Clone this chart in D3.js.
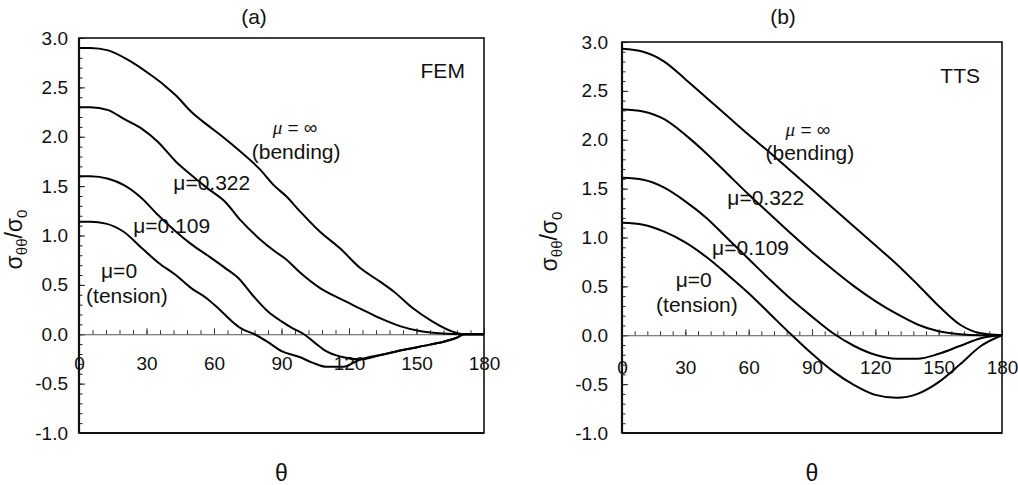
<!DOCTYPE html>
<html>
<head>
<meta charset="utf-8">
<script src="https://cdn.jsdelivr.net/npm/d3@7"></script>
<style>
  html, body { margin: 0; padding: 0; background: #fff; }
  svg { display: block; font-family: "Liberation Sans", Arial, sans-serif; }
</style>
</head>
<body>
<script>
// Hoop stress around the hole, sigma_theta_theta / sigma_0 versus theta (deg)

// axis ticks
const thetaLabels = [0, 30, 60, 90, 120, 150, 180];
const stressLabels = [3.0, 2.5, 2.0, 1.5, 1.0, 0.5, 0.0, -0.5, -1.0];

// (a) finite element results, [theta, stress] pairs
const femBending = [[0,2.90],[5,2.90],[13,2.875],[22,2.775],[31,2.64],[38,2.52],[43,2.42],[50,2.25],[57,2.12],[63,2.015],[72,1.845],[80,1.68],[87,1.50],[92,1.40],[98,1.25],[107,1.04],[116,0.87],[125,0.67],[134,0.53],[140,0.43],[148,0.27],[157,0.13],[165,0.035],[171,0],[180,0]];
const femMu0322 = [[0,2.30],[5,2.30],[13,2.27],[20,2.18],[28,2.08],[35,1.95],[43,1.75],[50,1.61],[57,1.48],[65,1.34],[72,1.15],[80,0.97],[87,0.84],[92,0.76],[98,0.63],[107,0.47],[116,0.36],[125,0.26],[134,0.16],[143,0.08],[152,0.03],[160,0.01],[171,0],[180,0]];
const femMu0109 = [[0,1.60],[5,1.60],[13,1.575],[20,1.51],[28,1.375],[35,1.21],[43,1.04],[50,0.91],[57,0.80],[65,0.67],[71,0.565],[77,0.40],[84,0.23],[90,0.13],[95,0.06],[100,0],[105,-0.09],[109,-0.16],[117,-0.23],[125,-0.255],[134,-0.21],[146,-0.15],[156,-0.105],[163,-0.07],[168,-0.035],[171,0],[180,0]];
const femMu0 = [[0,1.14],[5,1.14],[12,1.12],[20,1.035],[28,0.87],[35,0.73],[43,0.60],[50,0.465],[57,0.36],[62,0.26],[68,0.13],[72,0.06],[78,0],[84,-0.08],[90,-0.17],[98,-0.23],[104,-0.29],[110,-0.33],[117,-0.33],[125,-0.255],[134,-0.21],[146,-0.15],[156,-0.105],[163,-0.07],[168,-0.035],[171,0],[180,0]];

// (b) TTS results on a 10 degree grid
const ttsTheta = [0,10,20,30,40,50,60,70,80,90,100,110,120,130,140,150,160,170,180];
const ttsBending = [2.93,2.90,2.80,2.62,2.43,2.24,2.05,1.87,1.68,1.49,1.30,1.11,0.92,0.73,0.52,0.30,0.11,0.02,0];
const ttsMu0322 = [2.31,2.29,2.21,2.05,1.86,1.65,1.44,1.24,1.04,0.85,0.67,0.50,0.35,0.22,0.11,0.04,0.01,0,0];
const ttsMu0109 = [1.61,1.59,1.51,1.37,1.20,0.99,0.78,0.57,0.37,0.19,0.02,-0.11,-0.20,-0.24,-0.24,-0.19,-0.11,-0.03,0];
const ttsMu0 = [1.15,1.13,1.06,0.95,0.80,0.62,0.43,0.22,0.01,-0.19,-0.37,-0.51,-0.61,-0.64,-0.60,-0.48,-0.30,-0.11,0];

const zipTts = vals => ttsTheta.map((t, i) => [t, vals[i]]);

const svg = d3.select("body").append("svg")
  .attr("width", 1018).attr("height", 485);

const fmt = v => v.toFixed(1);
const FS = 21;      // annotation / title size
const TICK_FS = 19; // tick label size

function drawPanel(p) {
  const x = d3.scaleLinear().domain([0, 180]).range([p.left, p.right]);
  const y = d3.scaleLinear().domain([-1, 3]).range([p.bottom, p.top]);
  const g = svg.append("g");

  // inward minor ticks on the left axis (every 0.1)
  const yMinor = d3.range(-10, 31).map(i => i / 10);
  g.append("g").attr("transform", `translate(${p.left},0)`)
    .call(d3.axisRight(y).tickValues(yMinor).tickSize(3.5).tickFormat(""))
    .call(s => s.select(".domain").remove())
    .selectAll("line").attr("stroke", "#222").attr("stroke-width", 1);
  g.append("g").attr("transform", `translate(${p.left},0)`)
    .call(d3.axisRight(y).tickValues(stressLabels).tickSize(6).tickFormat(""))
    .call(s => s.select(".domain").remove())
    .selectAll("line").attr("stroke", "#222").attr("stroke-width", 1);

  // left tick labels
  g.append("g").attr("transform", `translate(${p.left},0)`)
    .call(d3.axisLeft(y).tickValues(stressLabels).tickSize(0).tickPadding(p.yPad).tickFormat(fmt))
    .call(s => s.select(".domain").remove())
    .selectAll("text").attr("font-size", TICK_FS).attr("fill", "#111")
    .attr("font-family", "Liberation Sans, Arial, sans-serif");

  // zero line with upward ticks every 6 degrees
  const xMinor = d3.range(0, 181, 6);
  g.append("g").attr("transform", `translate(0,${y(0)})`)
    .call(d3.axisTop(x).tickValues(xMinor).tickSize(4).tickSizeOuter(0).tickFormat(""))
    .call(s => s.select(".domain").attr("stroke", "#555").attr("stroke-width", 1))
    .selectAll("line").attr("stroke", "#333").attr("stroke-width", 1);
  g.append("g").attr("transform", `translate(0,${y(0)})`)
    .call(d3.axisTop(x).tickValues(thetaLabels).tickSize(6).tickSizeOuter(0).tickFormat(""))
    .call(s => s.select(".domain").remove())
    .selectAll("line").attr("stroke", "#333").attr("stroke-width", 1);

  // frame
  g.append("rect")
    .attr("x", p.left).attr("y", p.top)
    .attr("width", p.right - p.left).attr("height", p.bottom - p.top)
    .attr("fill", "none").attr("stroke", "#111").attr("stroke-width", 1.6);
  g.append("line").attr("x1", p.left).attr("x2", p.left)
    .attr("y1", p.top).attr("y2", p.bottom)
    .attr("stroke", "#111").attr("stroke-width", 2.2);
  g.append("line").attr("x1", p.left).attr("x2", p.right)
    .attr("y1", p.bottom).attr("y2", p.bottom)
    .attr("stroke", "#111").attr("stroke-width", 2.2);

  // theta labels below the zero line
  g.append("g").attr("transform", `translate(0,${y(0)})`)
    .call(d3.axisBottom(x).tickValues(thetaLabels).tickSize(0).tickPadding(p.xPad).tickFormat(d3.format("d")))
    .call(s => s.select(".domain").remove())
    .selectAll("text").attr("font-size", TICK_FS).attr("fill", "#111")
    .attr("font-family", "Liberation Sans, Arial, sans-serif");

  // curves
  const line = d3.line().x(d => x(d[0])).y(d => y(d[1])).curve(d3.curveMonotoneX);
  g.selectAll("path.curve").data(p.series).join("path")
    .attr("class", "curve")
    .attr("d", line)
    .attr("fill", "none").attr("stroke", "#000")
    .attr("stroke-width", 2).attr("stroke-linejoin", "round");

  // panel title, method tag
  g.append("text").attr("x", p.titleX).attr("y", 24)
    .attr("text-anchor", "middle").attr("font-size", FS).attr("fill", "#111")
    .text(p.title);
  g.append("text").attr("x", x(p.tag.t)).attr("y", y(p.tag.v))
    .attr("text-anchor", "end").attr("font-size", FS).attr("fill", "#111")
    .text(p.tag.text);

  // curve annotations
  p.notes.forEach(n => {
    const t = g.append("text").attr("x", x(n.t)).attr("y", y(n.v))
      .attr("text-anchor", "middle").attr("font-size", n.italic ? 19 : FS).attr("fill", "#111");
    if (n.italic) {
      t.append("tspan").attr("font-style", "italic").attr("font-family", "Liberation Serif, Times New Roman, serif").text("μ");
      t.append("tspan").text(" = ∞");
    } else {
      t.text(n.text);
    }
  });

  // axis titles
  const yt = g.append("text")
    .attr("transform", `translate(${p.yTitleX},${(p.top + p.bottom) / 2 + 4}) rotate(-90)`)
    .attr("text-anchor", "middle").attr("font-size", 23).attr("fill", "#111");
  yt.append("tspan").text("σ");
  yt.append("tspan").attr("font-size", 15).attr("dy", 5).text("θθ");
  yt.append("tspan").attr("dy", -5).text("/σ");
  yt.append("tspan").attr("font-size", 15).attr("dy", 5).text("0");

  g.append("text").attr("x", (p.left + p.right) / 2).attr("y", 481)
    .attr("text-anchor", "middle").attr("font-size", 23).attr("fill", "#111")
    .text("θ");
}

drawPanel({
  left: 79, right: 484, top: 38, bottom: 433,
  yPad: 11, xPad: 22, titleX: 254, yTitleX: 22,
  title: "(a)",
  tag: { text: "FEM", t: 171.5, v: 2.6 },
  series: [femBending, femMu0322, femMu0109, femMu0],
  notes: [
    { italic: true, t: 96, v: 2.03 },
    { text: "(bending)", t: 96.5, v: 1.775 },
    { text: "μ=0.322", t: 59, v: 1.46 },
    { text: "μ=0.109", t: 41.2, v: 1.025 },
    { text: "μ=0", t: 17.8, v: 0.57 },
    { text: "(tension)", t: 21.3, v: 0.315 }
  ]
});

drawPanel({
  left: 622, right: 1002, top: 42, bottom: 433,
  yPad: 14, xPad: 25, titleX: 783, yTitleX: 557,
  title: "(b)",
  tag: { text: "TTS", t: 169.6, v: 2.58 },
  series: [zipTts(ttsBending), zipTts(ttsMu0322), zipTts(ttsMu0109), zipTts(ttsMu0)],
  notes: [
    { italic: true, t: 88.1, v: 2.04 },
    { text: "(bending)", t: 89, v: 1.79 },
    { text: "μ=0.322", t: 68.1, v: 1.33 },
    { text: "μ=0.109", t: 60.9, v: 0.82 },
    { text: "μ=0", t: 34, v: 0.49 },
    { text: "(tension)", t: 35.5, v: 0.235 }
  ]
});
</script>
</body>
</html>
